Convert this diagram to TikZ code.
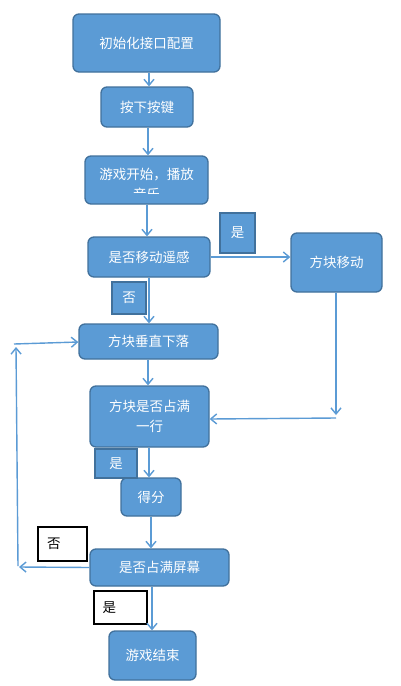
\documentclass[tikz,border=0pt]{standalone}
\usepackage{fontspec}
\newfontfamily\cjk{Noto Sans CJK SC}
\usetikzlibrary{arrows.meta}
\definecolor{boxblue}{HTML}{5B9BD5}
\definecolor{edgeblue}{HTML}{41719C}
\begin{document}
\begin{tikzpicture}[x=1pt,y=-1pt,
  cjkfont/.style={font=\cjk\fontsize{13.5}{20}\selectfont},
  sz/.style 2 args={minimum width=#1, minimum height=#2},
  proc/.style={draw=edgeblue, fill=boxblue, line width=1.3pt, rounded corners=6pt,
    text=white, cjkfont, align=center, inner sep=0pt},
  txt/.style={text=white, cjkfont, align=center, inner sep=0pt},
  bluelab/.style={draw=edgeblue, fill=boxblue, line width=1.3pt, text=white, cjkfont, inner sep=0pt},
  whitelab/.style={draw=black, fill=white, line width=1.3pt, text=black, cjkfont, align=left},
  arr/.style={draw=boxblue, line width=1.4pt, -{Straight Barb[length=6pt,width=10pt]}}
]
\useasboundingbox[fill=white] (0,0) rectangle (400,686);

% boxes
\node[proc, sz={147pt}{58pt}] (init) at (146.5,43) {初始化接口配置};
\node[proc, sz={92pt}{40pt}] (key) at (147,107) {按下按键};
\node[proc, sz={123pt}{48pt}] (start) at (146.5,180) {};
\begin{scope}
  \clip (85,156) rectangle (208,193);
  \node[txt] (startlbl) at (146.5,184.5) {游戏开始，播放\\音乐};
\end{scope}
\node[proc, sz={122pt}{40pt}] (joy) at (149,257) {是否移动遥感};
\node[proc, sz={91pt}{59pt}] (move) at (336.5,262.5) {方块移动};
\node[proc, sz={139pt}{35pt}] (fall) at (148.5,341.5) {方块垂直下落};
\node[proc, sz={119pt}{61pt}] (row) at (149.5,416.5) {方块是否占满\\一行};
\node[proc, sz={60pt}{38pt}] (score) at (151,497) {得分};
\node[proc, sz={139pt}{37pt}] (full) at (159.5,567.5) {是否占满屏幕};
\node[proc, sz={87pt}{49pt}] (over) at (152.5,655.5) {游戏结束};

% labels
\node[bluelab, sz={35pt}{40pt}] (yes1) at (237.5,233) {是};
\node[bluelab, sz={34pt}{32pt}] (no1) at (129,298) {否};
\node[bluelab, sz={42pt}{29pt}] (yes2) at (116,463.5) {是};
\node[whitelab, sz={49pt}{34pt}, inner xsep=9pt, inner ysep=0pt, text width=31pt] (no2) at (62.5,544) {否};
\node[whitelab, sz={53pt}{33pt}, inner xsep=8.5pt, inner ysep=0pt, text width=36pt] (yes3) at (120.5,607.5) {是};

% free-end coordinates
\coordinate (la) at (19,567);
\coordinate (lb) at (18,566);
\coordinate (lc) at (16,347);
\coordinate (ld) at (14,344);
\coordinate (ra) at (336,415);
\coordinate (rb) at (336,418);

% connectors
\draw[arr] (init.south -| 149,0) -- (key.north -| 149,0);
\draw[arr] (key.south -| 148,0) -- (start.north -| 148,0);
\draw[arr] (start.south -| 147,0) -- (joy.north -| 147,0);
\draw[arr] (joy.east |- 0,257) -- (move.west |- 0,257);
\draw[arr] (joy.south -| 149,0) -- (fall.north -| 149,0);
\draw[arr] (fall.south -| 148,0) -- (row.north -| 148,0);
\draw[arr] (move.south -| ra) -- (ra);
\draw[arr] (rb) -- (row.east |- 0,419);
\draw[arr] (row.south -| 149,0) -- (score.north -| 149,0);
\draw[arr] (score.south -| 151,0) -- (full.north -| 151,0);
\draw[arr] (full.south -| 152,0) -- (over.north -| 152,0);
\draw[arr] (full.west) -- (la);
\draw[arr] (lb) -- (lc);
\draw[arr] (ld) -- (fall.west |- 0,342);
\end{tikzpicture}
\end{document}
